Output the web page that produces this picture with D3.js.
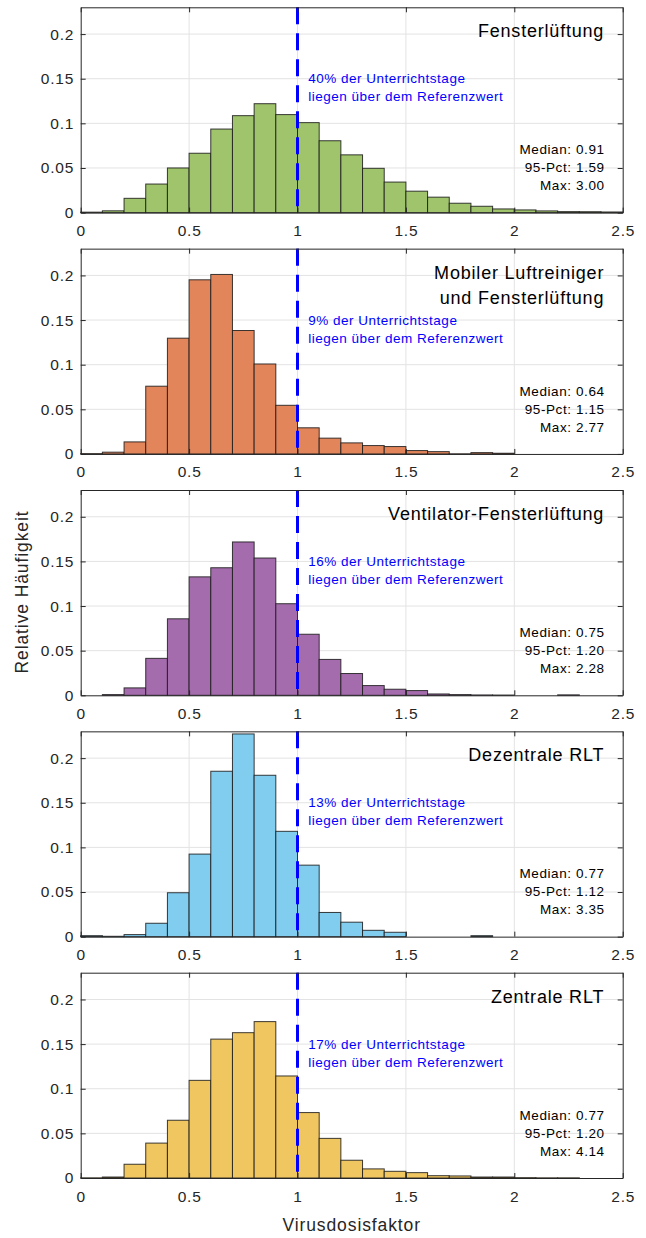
<!DOCTYPE html>
<html>
<head>
<meta charset="utf-8">
<script src="https://cdn.jsdelivr.net/npm/d3@7"></script>
<style>
  body { margin: 0; background: #fff; }
  svg { font-family: "Liberation Sans", Arial, Helvetica, sans-serif; }
</style>
</head>
<body>
<div id="chart"></div>
<script>
// bin edges 0, 0.1, ... 2.5
var binStarts = d3.range(0, 25).map(i => i / 10);

var titles = [
  ["Fensterlüftung"],
  ["Mobiler Luftreiniger", "und Fensterlüftung"],
  ["Ventilator-Fensterlüftung"],
  ["Dezentrale RLT"],
  ["Zentrale RLT"]
];
var overPct = ["40%", "9%", "16%", "13%", "17%"];
var medians = ["0.91", "0.64", "0.75", "0.77", "0.77"];
var pct95 = ["1.59", "1.15", "1.20", "1.12", "1.20"];
var maxima = ["3.00", "2.77", "2.28", "3.35", "4.14"];
var colors = ["#9fc46b", "#e2855b", "#a56cad", "#80cdf0", "#f0c661"];

// relative frequency per bin
var fenster = [0.0005, 0.002, 0.016, 0.032, 0.050, 0.0665, 0.0936, 0.1086, 0.122, 0.1098,
  0.1008, 0.0805, 0.0647, 0.0496, 0.0342, 0.024, 0.0173, 0.0105, 0.0071, 0.0041,
  0.003, 0.0019, 0.0011, 0.001, 0.0007];
var mobil = [0.0004, 0.002, 0.0135, 0.0759, 0.1297, 0.1951, 0.2011, 0.1383, 0.1008, 0.0545,
  0.0293, 0.0177, 0.0124, 0.0094, 0.0083, 0.0038, 0.0026, 0.0002, 0.0015, 0.0008,
  0, 0, 0, 0, 0];
var ventilator = [0, 0.0008, 0.0083, 0.0414, 0.0857, 0.1327, 0.1429, 0.1718, 0.1538, 0.1026,
  0.0684, 0.0402, 0.0244, 0.0109, 0.0068, 0.0053, 0.0015, 0.0008, 0.0004, 0.0003,
  0, 0, 0.0005, 0, 0];
var dezentral = [0.0011, 0.0004, 0.0023, 0.015, 0.0492, 0.0925, 0.1853, 0.2271, 0.1808, 0.118,
  0.0801, 0.0271, 0.0162, 0.0071, 0.0049, 0, 0, 0, 0.0011, 0,
  0, 0, 0, 0, 0];
var zentral = [0.0002, 0.0011, 0.0154, 0.0391, 0.0647, 0.1094, 0.1556, 0.1628, 0.1752, 0.1143,
  0.0733, 0.0444, 0.0199, 0.0102, 0.0075, 0.006, 0.0026, 0.0023, 0.0011, 0.0011,
  0.0004, 0.0002, 0.0002, 0, 0];
var series = [fenster, mobil, ventilator, dezentral, zentral];

var xTicks = [0, 0.5, 1, 1.5, 2, 2.5];
var yTicks = [0, 0.05, 0.1, 0.15, 0.2];

var width = 646, height = 1238;
var left = 80.7, plotW = 542;
var firstTop = 7.3, pitch = 241.35, plotH = 205.3;
var axisColor = "#262626";

var svg = d3.select("#chart").append("svg")
  .attr("width", width)
  .attr("height", height);

var x = d3.scaleLinear().domain([0, 2.5]).range([0, plotW]);
var y = d3.scaleLinear().domain([0, 0.23]).range([plotH, 0]);

series.forEach(function(vals, p) {
  var g = svg.append("g")
    .attr("transform", `translate(${left}, ${firstTop + p * pitch})`);

  // grid
  g.selectAll(".gx").data(xTicks.slice(1, -1)).enter().append("line")
    .attr("x1", d => x(d)).attr("x2", d => x(d))
    .attr("y1", 0).attr("y2", plotH)
    .attr("stroke", "#e3e3e3").attr("stroke-width", 1);
  g.selectAll(".gy").data(yTicks.slice(1)).enter().append("line")
    .attr("x1", 0).attr("x2", plotW)
    .attr("y1", d => y(d)).attr("y2", d => y(d))
    .attr("stroke", "#e3e3e3").attr("stroke-width", 1);

  // bars
  g.selectAll("rect.bar").data(vals).enter().append("rect")
    .attr("class", "bar")
    .attr("x", (d, i) => x(binStarts[i]))
    .attr("width", (d, i) => x(binStarts[i] + 0.1) - x(binStarts[i]))
    .attr("y", d => y(d))
    .attr("height", d => plotH - y(d))
    .attr("fill", colors[p])
    .attr("stroke", "#1a1a1a")
    .attr("stroke-width", 1)
    .attr("stroke-opacity", 0.85);

  // reference line
  g.append("line")
    .attr("x1", x(1)).attr("x2", x(1))
    .attr("y1", 0).attr("y2", plotH)
    .attr("stroke", "#0000ff")
    .attr("stroke-width", 3)
    .attr("stroke-dasharray", "17,9");

  // axes
  var xAxis = d3.axisBottom(x).tickValues(xTicks).tickFormat(d3.format("")).tickSizeInner(-5).tickSizeOuter(0).tickPadding(12.5);
  var xTop = d3.axisTop(x).tickValues(xTicks).tickFormat("").tickSizeInner(-5).tickSizeOuter(0);
  var yAxis = d3.axisLeft(y).tickValues(yTicks).tickFormat(d3.format("")).tickSizeInner(-5).tickSizeOuter(0).tickPadding(6.5);
  var yRight = d3.axisRight(y).tickValues(yTicks).tickFormat("").tickSizeInner(-5).tickSizeOuter(0);

  var ax = [
    g.append("g").attr("transform", `translate(0, ${plotH})`).call(xAxis),
    g.append("g").call(xTop),
    g.append("g").call(yAxis),
    g.append("g").attr("transform", `translate(${plotW}, 0)`).call(yRight)
  ];
  ax.forEach(function(a) {
    a.selectAll("path").attr("stroke", axisColor);
    a.selectAll("line").attr("stroke", axisColor);
    a.selectAll("text").attr("fill", axisColor)
      .style("font-size", "15.5px").style("letter-spacing", "0.8px");
  });

  // title
  var t = g.append("text")
    .attr("text-anchor", "end")
    .attr("fill", "#000")
    .style("font-size", "18px")
    .style("letter-spacing", "0.8px");
  titles[p].forEach(function(line, k) {
    t.append("tspan").attr("x", 523.5).attr("y", 30 + k * 25).text(line);
  });

  // annotation
  var a = g.append("text")
    .attr("fill", "#0000ff")
    .style("font-size", "13.5px")
    .style("letter-spacing", "0.5px");
  a.append("tspan").attr("x", x(1.05)).attr("y", 76).text(overPct[p] + " der Unterrichtstage");
  a.append("tspan").attr("x", x(1.05)).attr("y", 94).text("liegen über dem Referenzwert");

  // stats
  var s = g.append("text")
    .attr("text-anchor", "end")
    .attr("fill", "#000")
    .style("font-size", "13.5px")
    .style("letter-spacing", "0.6px");
  ["Median: " + medians[p], "95-Pct: " + pct95[p], "Max: " + maxima[p]].forEach(function(line, k) {
    s.append("tspan").attr("x", 524).attr("y", 147 + k * 18).text(line);
  });
});

svg.append("text")
  .attr("x", left + plotW / 2)
  .attr("y", 1231)
  .attr("text-anchor", "middle")
  .attr("fill", axisColor)
  .style("font-size", "17.5px")
  .style("letter-spacing", "0.9px")
  .text("Virusdosisfaktor");

svg.append("text")
  .attr("transform", "translate(28, 592) rotate(-90)")
  .attr("text-anchor", "middle")
  .attr("fill", axisColor)
  .style("font-size", "17.5px")
  .style("letter-spacing", "0.9px")
  .text("Relative Häufigkeit");
</script>
</body>
</html>
